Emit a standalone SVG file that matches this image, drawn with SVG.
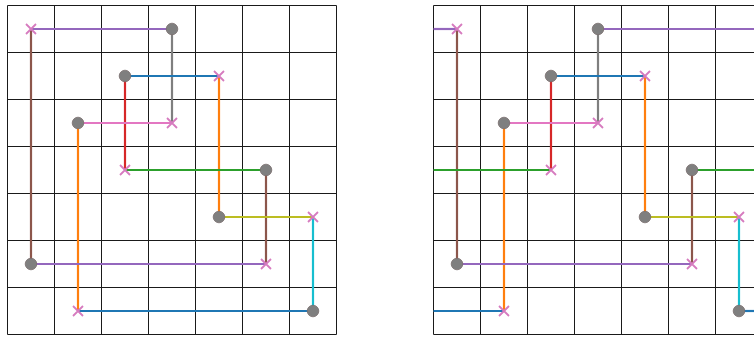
<svg xmlns="http://www.w3.org/2000/svg" width="754" height="338" viewBox="0 0 754 338">
<defs>
<style>
.grid line{stroke:#1a1a1a;stroke-width:1}
.c{stroke-width:2.2;fill:none;stroke-linecap:butt}
.dot{fill:#7f7f7f;stroke:#7a6f6f;stroke-width:0.8}
.xm{stroke:#d67bbf;stroke-width:1.8;fill:none}
</style>
<g id="gridlines" class="grid">
<line x1="7.5" y1="5.5" x2="7.5" y2="334.5"/><line x1="54.5" y1="5.5" x2="54.5" y2="334.5"/><line x1="101.5" y1="5.5" x2="101.5" y2="334.5"/><line x1="148.5" y1="5.5" x2="148.5" y2="334.5"/><line x1="195.5" y1="5.5" x2="195.5" y2="334.5"/><line x1="242.5" y1="5.5" x2="242.5" y2="334.5"/><line x1="289.5" y1="5.5" x2="289.5" y2="334.5"/><line x1="336.5" y1="5.5" x2="336.5" y2="334.5"/>
<line x1="7.5" y1="5.5" x2="336.5" y2="5.5"/><line x1="7.5" y1="52.5" x2="336.5" y2="52.5"/><line x1="7.5" y1="99.5" x2="336.5" y2="99.5"/><line x1="7.5" y1="146.5" x2="336.5" y2="146.5"/><line x1="7.5" y1="193.5" x2="336.5" y2="193.5"/><line x1="7.5" y1="240.5" x2="336.5" y2="240.5"/><line x1="7.5" y1="287.5" x2="336.5" y2="287.5"/><line x1="7.5" y1="334.5" x2="336.5" y2="334.5"/>
</g>
<path id="xshape" d="M-5,-5L5,5M-5,5L5,-5"/>
</defs>
<rect width="754" height="338" fill="#ffffff"/>

<g id="left-panel">
<use href="#gridlines"/>
<g id="left-connectors">
<line class="c" stroke="#9467bd" x1="31" y1="29" x2="172" y2="29"/>
<line class="c" stroke="#8c564b" x1="31" y1="29" x2="31" y2="264"/>
<line class="c" stroke="#7f7f7f" x1="172" y1="29" x2="172" y2="123"/>
<line class="c" stroke="#1f77b4" x1="125" y1="76" x2="219" y2="76"/>
<line class="c" stroke="#d62728" x1="125" y1="76" x2="125" y2="170"/>
<line class="c" stroke="#e377c2" x1="78" y1="123" x2="172" y2="123"/>
<line class="c" stroke="#ff7f0e" x1="78" y1="123" x2="78" y2="311"/>
<line class="c" stroke="#ff7f0e" x1="219" y1="76" x2="219" y2="217"/>
<line class="c" stroke="#2ca02c" x1="125" y1="170" x2="266" y2="170"/>
<line class="c" stroke="#8c564b" x1="266" y1="170" x2="266" y2="264"/>
<line class="c" stroke="#bcbd22" x1="219" y1="217" x2="313" y2="217"/>
<line class="c" stroke="#17becf" x1="313" y1="217" x2="313" y2="311"/>
<line class="c" stroke="#9467bd" x1="31" y1="264" x2="266" y2="264"/>
<line class="c" stroke="#1f77b4" x1="78" y1="311" x2="313" y2="311"/>
</g>
<g id="L-d30"><circle class="dot" cx="172" cy="29" r="5.8"/></g>
<g id="L-d21"><circle class="dot" cx="125" cy="76" r="5.8"/></g>
<g id="L-d12"><circle class="dot" cx="78" cy="123" r="5.8"/></g>
<g id="L-d53"><circle class="dot" cx="266" cy="170" r="5.8"/></g>
<g id="L-d44"><circle class="dot" cx="219" cy="217" r="5.8"/></g>
<g id="L-d05"><circle class="dot" cx="31" cy="264" r="5.8"/></g>
<g id="L-d66"><circle class="dot" cx="313" cy="311" r="5.8"/></g>
<g id="L-x00"><use class="xm" href="#xshape" x="31" y="29"/></g>
<g id="L-x41"><use class="xm" href="#xshape" x="219" y="76"/></g>
<g id="L-x32"><use class="xm" href="#xshape" x="172" y="123"/></g>
<g id="L-x23"><use class="xm" href="#xshape" x="125" y="170"/></g>
<g id="L-x64"><use class="xm" href="#xshape" x="313" y="217"/></g>
<g id="L-x55"><use class="xm" href="#xshape" x="266" y="264"/></g>
<g id="L-x16"><use class="xm" href="#xshape" x="78" y="311"/></g>
</g>

<g id="right-panel" transform="translate(426,0)">
<use href="#gridlines"/>
<g id="right-connectors">
<line class="c" stroke="#9467bd" x1="7.5" y1="29" x2="31" y2="29"/>
<line class="c" stroke="#9467bd" x1="172" y1="29" x2="340" y2="29"/>
<line class="c" stroke="#8c564b" x1="31" y1="29" x2="31" y2="264"/>
<line class="c" stroke="#7f7f7f" x1="172" y1="29" x2="172" y2="123"/>
<line class="c" stroke="#1f77b4" x1="125" y1="76" x2="219" y2="76"/>
<line class="c" stroke="#d62728" x1="125" y1="76" x2="125" y2="170"/>
<line class="c" stroke="#e377c2" x1="78" y1="123" x2="172" y2="123"/>
<line class="c" stroke="#ff7f0e" x1="78" y1="123" x2="78" y2="311"/>
<line class="c" stroke="#ff7f0e" x1="219" y1="76" x2="219" y2="217"/>
<line class="c" stroke="#2ca02c" x1="7.5" y1="170" x2="125" y2="170"/>
<line class="c" stroke="#2ca02c" x1="266" y1="170" x2="340" y2="170"/>
<line class="c" stroke="#8c564b" x1="266" y1="170" x2="266" y2="264"/>
<line class="c" stroke="#bcbd22" x1="219" y1="217" x2="313" y2="217"/>
<line class="c" stroke="#17becf" x1="313" y1="217" x2="313" y2="311"/>
<line class="c" stroke="#9467bd" x1="31" y1="264" x2="266" y2="264"/>
<line class="c" stroke="#1f77b4" x1="7.5" y1="311" x2="78" y2="311"/>
<line class="c" stroke="#1f77b4" x1="313" y1="311" x2="340" y2="311"/>
</g>
<g id="R-d30"><circle class="dot" cx="172" cy="29" r="5.8"/></g>
<g id="R-d21"><circle class="dot" cx="125" cy="76" r="5.8"/></g>
<g id="R-d12"><circle class="dot" cx="78" cy="123" r="5.8"/></g>
<g id="R-d53"><circle class="dot" cx="266" cy="170" r="5.8"/></g>
<g id="R-d44"><circle class="dot" cx="219" cy="217" r="5.8"/></g>
<g id="R-d05"><circle class="dot" cx="31" cy="264" r="5.8"/></g>
<g id="R-d66"><circle class="dot" cx="313" cy="311" r="5.8"/></g>
<g id="R-x00"><use class="xm" href="#xshape" x="31" y="29"/></g>
<g id="R-x41"><use class="xm" href="#xshape" x="219" y="76"/></g>
<g id="R-x32"><use class="xm" href="#xshape" x="172" y="123"/></g>
<g id="R-x23"><use class="xm" href="#xshape" x="125" y="170"/></g>
<g id="R-x64"><use class="xm" href="#xshape" x="313" y="217"/></g>
<g id="R-x55"><use class="xm" href="#xshape" x="266" y="264"/></g>
<g id="R-x16"><use class="xm" href="#xshape" x="78" y="311"/></g>
</g>
</svg>
